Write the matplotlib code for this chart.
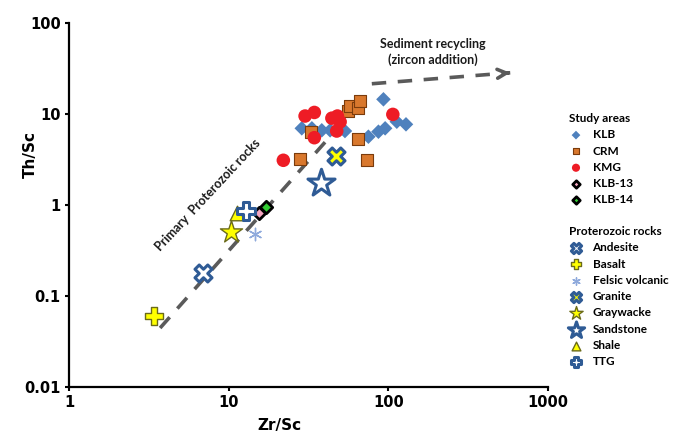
import matplotlib
matplotlib.use("Agg")
import matplotlib.pyplot as plt
from matplotlib.ticker import FixedLocator, FixedFormatter, NullLocator

plt.rcParams['font.family'] = ['DejaVu Sans']

# study areas
klb_zr = [28.7, 33.2, 38.3, 43.2, 53.5, 75.0, 86.7, 95.5, 93.2, 113.0, 129.0]
klb_th = [6.96, 6.96, 6.62, 6.62, 6.5, 5.63, 6.39, 6.96, 14.5, 8.23, 7.7]

crm_zr = [28.0, 32.7, 56.2, 57.6, 65.0, 66.6, 65.0, 73.3]
crm_th = [3.18, 6.34, 10.8, 12.2, 11.7, 13.9, 5.27, 3.1]

kmg_zr = [22.0, 30.1, 34.4, 44.3, 48.0, 49.9, 47.5, 34.4, 106.7]
kmg_th = [3.1, 9.5, 10.4, 9.0, 9.5, 8.2, 6.5, 5.49, 9.9]

klb13_zr, klb13_th = [15.4], [0.82]
klb14_zr, klb14_th = [17.2], [0.95]

# proterozoic rocks
rock_names = ['Andesite', 'Basalt', 'Felsic volcanic', 'Granite',
              'Graywacke', 'Sandstone', 'Shale', 'TTG']
rock_zr = [6.94, 3.41, 14.6, 47.1, 10.3, 37.8, 11.3, 12.9]
rock_th = [0.18, 0.060, 0.476, 3.45, 0.51, 1.76, 0.81, 0.87]

# trends
primary_zr = [3.72, 49.4]
primary_th = [0.0445, 7.38]
recycle_zr = [78.8, 580.0]
recycle_th = [21.5, 28.4]

xticks = [1, 10, 100, 1000]
yticks = [0.01, 0.1, 1, 10, 100]

blue = '#4f81bd'
dblue = '#2f5b95'
yellow = '#ffff00'
olive = '#6b6b1a'
grey = '#5a5a5a'
txtfont = ['Lato', 'DejaVu Sans']

fig = plt.figure(figsize=(6.73, 4.37), dpi=100)
ax = fig.add_axes([69 / 673, 1 - 387 / 437, (548 - 69) / 673, (387 - 23) / 437])
ax.set_xscale('log')
ax.set_yscale('log')
ax.set_xlim(1, 1000)
ax.set_ylim(0.01, 100)

ax.plot(primary_zr, primary_th, color=grey, lw=2.6, dashes=(4, 3.2), zorder=1)
ax.plot(recycle_zr, recycle_th, color=grey, lw=2.6, dashes=(4, 3.2), zorder=1)
ax.annotate('', xy=(recycle_zr[1], recycle_th[1]), xytext=(recycle_zr[1] * 0.93, recycle_th[1] * 0.99),
            arrowprops=dict(arrowstyle='->', color=grey, lw=2.6, mutation_scale=16), zorder=1)

study = []
study.append(ax.scatter(klb_zr, klb_th, marker='D', s=55, color=blue, edgecolors='none', label='KLB', zorder=3))
study.append(ax.scatter(crm_zr, crm_th, marker='s', s=70, color='#d9782d', edgecolors='#7a3b0c', linewidths=0.8, label='CRM', zorder=3))
study.append(ax.scatter(kmg_zr, kmg_th, marker='o', s=95, color='#ee1c25', edgecolors='none', label='KMG', zorder=4))
study.append(ax.scatter(klb13_zr, klb13_th, marker='D', s=40, color='#f4a6c0', edgecolors='black', linewidths=2, label='KLB-13', zorder=4))
study.append(ax.scatter(klb14_zr, klb14_th, marker='D', s=40, color='#33cc33', edgecolors='black', linewidths=2, label='KLB-14', zorder=4))

styles = {
    'Andesite': dict(marker='X', s=150, color='white', edgecolors=dblue, linewidths=2.2),
    'Basalt': dict(marker='P', s=160, color=yellow, edgecolors=olive, linewidths=1.0),
    'Felsic volcanic': dict(marker=(6, 2, 0), s=80, color='#8faadc', linewidths=1.0),
    'Granite': dict(marker='X', s=150, color=yellow, edgecolors=dblue, linewidths=2.2),
    'Graywacke': dict(marker='*', s=280, color=yellow, edgecolors=olive, linewidths=1.0),
    'Sandstone': dict(marker='*', s=420, color='white', edgecolors=dblue, linewidths=2.2),
    'Shale': dict(marker='^', s=110, color=yellow, edgecolors=olive, linewidths=1.0),
    'TTG': dict(marker='P', s=160, color='white', edgecolors=dblue, linewidths=2.2),
}
rocks = []
for name, zr, th in zip(rock_names, rock_zr, rock_th):
    rocks.append(ax.scatter([zr], [th], label=name, zorder=5, **styles[name]))

ax.text(7.4, 1.3, 'Primary  Proterozoic rocks', rotation=47, rotation_mode='anchor',
        ha='center', va='center', fontsize=9, fontweight='bold', color='#1a1a1a', family=txtfont)
ax.text(190, 48, 'Sediment recycling\n(zircon addition)', ha='center', va='center',
        fontsize=9, fontweight='bold', color='#1a1a1a', linespacing=1.25, family=txtfont)

ax.xaxis.set_major_locator(FixedLocator(xticks))
ax.xaxis.set_major_formatter(FixedFormatter([str(t) for t in xticks]))
ax.yaxis.set_major_locator(FixedLocator(yticks))
ax.yaxis.set_major_formatter(FixedFormatter(['0.01', '0.1', '1', '10', '100']))
ax.xaxis.set_minor_locator(NullLocator())
ax.yaxis.set_minor_locator(NullLocator())
for lab in ax.get_xticklabels() + ax.get_yticklabels():
    lab.set_fontweight('bold')
    lab.set_fontsize(10.5)
ax.tick_params(direction='out', length=3, width=1.5, pad=3)
for side in ['top', 'right']:
    ax.spines[side].set_visible(False)
for side in ['left', 'bottom']:
    ax.spines[side].set_linewidth(1.6)

ax.set_xlabel('Zr/Sc', fontsize=11, fontweight='bold')
ax.xaxis.set_label_coords(0.44, -0.085)
ax.set_ylabel('Th/Sc', fontsize=11, fontweight='bold')
ax.yaxis.set_label_coords(-0.065, 0.64)

# legends
lk = dict(loc='upper left', frameon=False, alignment='left',
          handletextpad=0.8, labelspacing=0.45, borderpad=0, handlelength=1.2,
          prop={'family': txtfont, 'weight': 'bold', 'size': 8.5},
          title_fontproperties={'family': txtfont, 'weight': 'bold', 'size': 8.5}, markerscale=0.6)
leg1 = fig.legend(handles=study, title='Study areas', bbox_to_anchor=(563 / 673, 1 - 107 / 437), **lk)
leg2 = fig.legend(handles=rocks, title='Proterozoic rocks', bbox_to_anchor=(563 / 673, 1 - 220 / 437), **lk)

fig.savefig('out.png', dpi=100)
